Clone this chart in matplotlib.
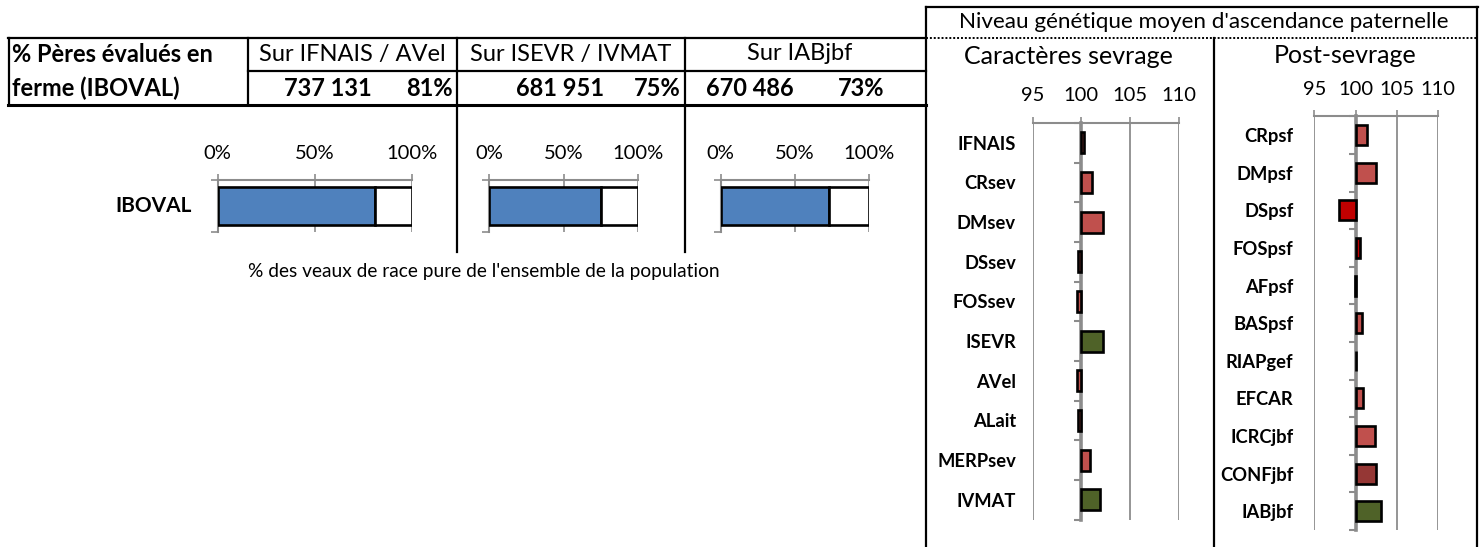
import matplotlib
matplotlib.use("Agg")
import matplotlib.pyplot as plt
from matplotlib.lines import Line2D
import numpy as np

plt.rcParams['font.family'] = ['Lato', 'DejaVu Sans']

# ---------------- data ----------------
col_headers = ["Sur IFNAIS / AVel", "Sur ISEVR / IVMAT", "Sur IABjbf"]
counts = ["737 131", "681 951", "670 486"]
pct_evalues = [0.81, 0.75, 0.73]
pct_labels = ["81%", "75%", "73%"]
small_ticks = [0, 0.5, 1.0]
small_ticklabels = ["0%", "50%", "100%"]

sev_labels = ["IFNAIS", "CRsev", "DMsev", "DSsev", "FOSsev", "ISEVR", "AVel", "ALait", "MERPsev", "IVMAT"]
sev_values = [100.3, 101.1, 102.2, 99.7, 99.5, 102.2, 99.5, 99.7, 100.9, 101.9]
sev_colors = ["#C0504D", "#C0504D", "#C0504D", "#C0504D", "#C0504D", "#4F6228", "#C0504D", "#C0504D", "#C0504D", "#4F6228"]

psf_labels = ["CRpsf", "DMpsf", "DSpsf", "FOSpsf", "AFpsf", "BASpsf", "RIAPgef", "EFCAR", "ICRCjbf", "CONFjbf", "IABjbf"]
psf_values = [101.4, 102.45, 97.95, 100.55, 99.9, 100.75, 100.0, 100.9, 102.4, 102.5, 103.1]
psf_colors = ["#C0504D", "#C0504D", "#C00000", "#C00000", "#C0504D", "#C0504D", "#C0504D", "#C0504D", "#C0504D", "#953735", "#4F6228"]

scale_ticks = [95, 100, 105, 110]

# ---------------- figure ----------------
W, H = 1482, 547
fig = plt.figure(figsize=(W / 100, H / 100), dpi=100)
fig.patch.set_facecolor("white")

GRAY = "#8C8C8C"
BLUE = "#4F81BD"


def fx(x):
    return x / W


def fy(y):
    return 1 - y / H


def axes_px(x0, y0, x1, y1):
    return fig.add_axes([x0 / W, 1 - y1 / H, (x1 - x0) / W, (y1 - y0) / H])


def hline(x0, x1, y, lw=1.6, ls='-', color='black'):
    fig.add_artist(Line2D([fx(x0), fx(x1)], [fy(y), fy(y)], transform=fig.transFigure,
                          color=color, lw=lw, ls=ls))


def vline(x, y0, y1, lw=1.6, color='black'):
    fig.add_artist(Line2D([fx(x), fx(x)], [fy(y0), fy(y1)], transform=fig.transFigure,
                          color=color, lw=lw))


def text(x, y, s, **kw):
    fig.text(fx(x), fy(y), s, va='center', **kw)


# ---------------- table ----------------
hline(8, 926, 38)
hline(248, 926, 71)
hline(8, 926, 104.5, lw=2.2)
vline(8.5, 38, 104.5)
vline(248, 38, 104.5)
vline(457, 38, 252)
vline(685, 38, 252)

TS = 17
text(12, 54, "% Pères évalués en", ha='left', fontsize=TS, fontweight='bold')
text(12, 88, "ferme (IBOVAL)", ha='left', fontsize=TS, fontweight='bold')

col_centers = [352, 571, 800]
for c, h in zip(col_centers, col_headers):
    text(c, 54, h, ha='center', fontsize=TS)

count_pos = [(372, 'right'), (604, 'right'), (706, 'left')]
pct_pos = [(453, 'right'), (681, 'right'), (838, 'left')]
for (cx, cha), (px, pha), cnt, pl in zip(count_pos, pct_pos, counts, pct_labels):
    text(cx, 88, cnt, ha=cha, fontsize=TS, fontweight='bold')
    text(px, 88, pl, ha=pha, fontsize=TS, fontweight='bold')

# ---------------- small stacked bars ----------------
small_x = [(217.6, 411.8), (489, 638), (720.6, 869.4)]
for i, ((x0, x1), p) in enumerate(zip(small_x, pct_evalues)):
    ax = axes_px(x0, 180, x1, 232)
    ax.set_facecolor('none')
    ax.barh([0], [p], height=0.73, color=BLUE, edgecolor='black', lw=1.9, zorder=3)
    ax.barh([0], [1 - p], left=[p], height=0.73, color='white', edgecolor='black', lw=1.9, zorder=3)
    ax.set_xlim(0, 1)
    ax.set_ylim(-0.5, 0.5)
    for s in ['right', 'bottom']:
        ax.spines[s].set_visible(False)
    for s in ['top', 'left']:
        ax.spines[s].set_color(GRAY)
        ax.spines[s].set_linewidth(1.5)
    ax.xaxis.tick_top()
    ax.set_xticks(small_ticks)
    ax.set_xticklabels(small_ticklabels)
    ax.tick_params(axis='x', length=4, color=GRAY, width=1.2, pad=9, labelsize=14.5)
    ax.grid(axis='x', color=GRAY, lw=1.2, zorder=0)
    ax.set_yticks([])
    ax.set_yticks([-0.5, 0.5], minor=True)
    ax.tick_params(axis='y', which='minor', length=5, color=GRAY, width=1.2)

text(192, 206, "IBOVAL", ha='right', fontsize=15, fontweight='bold')
text(484, 271, "% des veaux de race pure de l'ensemble de la population", ha='center', fontsize=13.8)

# ---------------- right panel frame ----------------
hline(926, 1478, 6.5)
vline(926, 6.5, 547)
vline(1477, 6.5, 547)
hline(926, 1477, 38, lw=1.4, ls=(0, (1, 1)))
vline(1214, 38, 547)

text(1204, 22, "Niveau génétique moyen d'ascendance paternelle", ha='center', fontsize=16.2)
text(1068, 57, "Caractères sevrage", ha='center', fontsize=18)
text(1345, 55, "Post-sevrage", ha='center', fontsize=18)


def genetic_axes(rect, labels, values, colors, label_pad, tick_pad):
    ax = axes_px(*rect)
    ax.set_facecolor('none')
    n = len(labels)
    y = np.arange(n)
    widths = np.array(values) - 100
    ax.barh(y, widths, left=100, height=0.53, color=colors, edgecolor='black', lw=1.9, zorder=3)
    ax.set_xlim(95, 110)
    ax.set_ylim(n - 0.5, -0.5)
    for s in ['right', 'bottom', 'left']:
        ax.spines[s].set_visible(False)
    ax.spines['top'].set_color(GRAY)
    ax.spines['top'].set_linewidth(1.5)
    ax.xaxis.tick_top()
    ax.set_xticks(scale_ticks)
    ax.set_xticklabels([str(t) for t in scale_ticks])
    ax.tick_params(axis='x', length=4, color=GRAY, width=1.2, pad=tick_pad, labelsize=14.5)
    ax.grid(axis='x', color=GRAY, lw=1.3, zorder=0)
    ax.set_yticks(y)
    ax.set_yticklabels(labels, fontweight='bold', fontsize=13.2)
    ax.tick_params(axis='y', length=0, pad=label_pad)
    # category axis crossing at 100
    sec = ax.secondary_yaxis((100 - 95) / 15)
    sec.set_yticks(np.arange(n + 1) - 0.5)
    sec.set_yticklabels([])
    sec.spines['left'].set_color(GRAY)
    sec.spines['left'].set_linewidth(2.6)
    sec.tick_params(axis='y', length=5, color=GRAY, width=1.5)
    return ax


genetic_axes((1032.7, 123, 1178.7, 519.5), sev_labels, sev_values, sev_colors, 12, 10)
genetic_axes((1314.3, 116.4, 1438, 530), psf_labels, psf_values, psf_colors, 15, 9)

fig.savefig("out.png", dpi=100)
